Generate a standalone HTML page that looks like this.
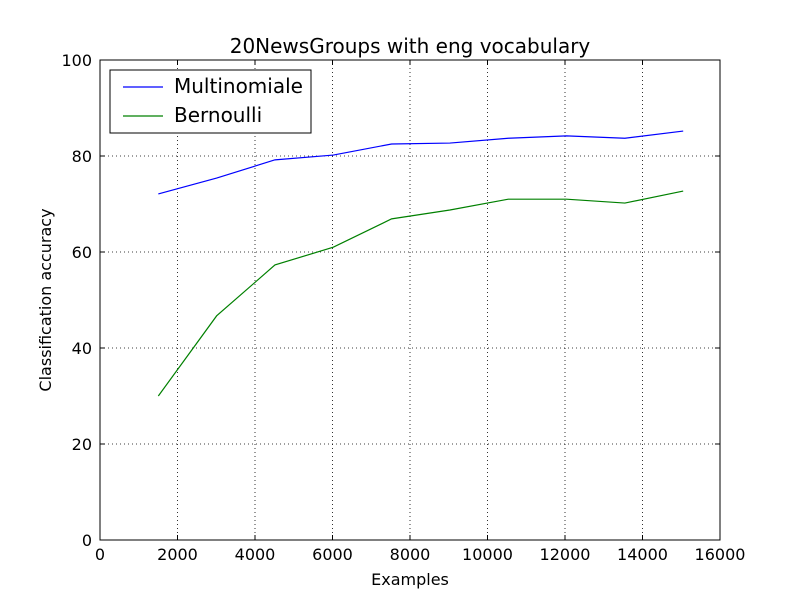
<!DOCTYPE html>
<html><head><meta charset="utf-8"><style>
body{margin:0;background:#fff;}
svg{font-family:"DejaVu Sans","Liberation Sans",sans-serif;}
</style></head><body>
<svg id="chart" width="800" height="600">
<rect x="0" y="0" width="800" height="600" fill="#fff"/>
</svg>
<script>
const xValues=[1505,3010,4515,6020,7525,9030,10535,12040,13545,15050];
const multinomiale=[72.1,75.4,79.2,80.2,82.5,82.7,83.7,84.2,83.7,85.2];
const bernoulli=[30,46.7,57.3,61,66.9,68.75,71,71,70.2,72.7];
const xTicks=[0,2000,4000,6000,8000,10000,12000,14000,16000];
const yTicks=[0,20,40,60,80,100];
const L=100,R=720,T=60,B=540;
const sx=v=>L+(v-0)/16000*(R-L);
const sy=v=>B-(v-0)/100*(B-T);
const svg=document.getElementById('chart');
const NS='http://www.w3.org/2000/svg';
function mk(tag,attrs,parent){const e=document.createElementNS(NS,tag);for(const k in attrs)e.setAttribute(k,attrs[k]);(parent||svg).appendChild(e);return e;}
xTicks.forEach(t=>{
 const g=mk('line',{x1:sx(t),x2:sx(t),y1:T,y2:B,stroke:'#000','stroke-dasharray':'1,3','stroke-width':0.8});
 
 
 const tk=mk('line',{x1:sx(t),x2:sx(t),y1:B,y2:B-5,stroke:'#000'});
 
 
 mk('line',{x1:sx(t),x2:sx(t),y1:T,y2:T+5,stroke:'#000'});
 const tx=mk('text',{x:sx(t),y:B+20,'text-anchor':'middle','font-size':16});
 tx.textContent=t;
 
 
});
yTicks.forEach(t=>{
 const g=mk('line',{x1:L,x2:R,y1:sy(t),y2:sy(t),stroke:'#000','stroke-dasharray':'1,3','stroke-width':0.8});
 
 
 mk('line',{x1:L,x2:L+5,y1:sy(t),y2:sy(t),stroke:'#000'});
 mk('line',{x1:R,x2:R-5,y1:sy(t),y2:sy(t),stroke:'#000'});
 const tx=mk('text',{x:L-8,y:sy(t)+6,'text-anchor':'end','font-size':16});
 tx.textContent=t;
 
 
});
function line(vals,color,name){
 const p=mk('polyline',{points:vals.map((v,i)=>sx(xValues[i])+','+sy(v)).join(' '),fill:'none',stroke:color,'stroke-width':1.2});
 
 
}
line(multinomiale,'#0000ff','multinomiale-line');
line(bernoulli,'#008000','bernoulli-line');
const frame=mk('rect',{x:L,y:T,width:R-L,height:B-T,fill:'none',stroke:'#000','stroke-width':1});


const title=mk('text',{x:410,y:53,'text-anchor':'middle','font-size':20});
title.textContent='20NewsGroups with eng vocabulary';


const xl=mk('text',{x:410,y:585,'text-anchor':'middle','font-size':16});
xl.textContent='Examples';


const yl=mk('text',{x:0,y:0,'text-anchor':'middle','font-size':16,transform:'translate(51,300) rotate(-90)'});
yl.textContent='Classification accuracy';


const lg=mk('g',{});


mk('rect',{x:110,y:70,width:201,height:63,fill:'#fff',stroke:'#000'},lg);
mk('line',{x1:123,x2:163,y1:87,y2:87,stroke:'#0000ff','stroke-width':1.2},lg);
mk('line',{x1:123,x2:163,y1:116,y2:116,stroke:'#008000','stroke-width':1.2},lg);
const t1=mk('text',{x:174,y:93,'font-size':20},lg);t1.textContent='Multinomiale';


const t2=mk('text',{x:174,y:122,'font-size':20},lg);t2.textContent='Bernoulli';


</script>
</body></html>
